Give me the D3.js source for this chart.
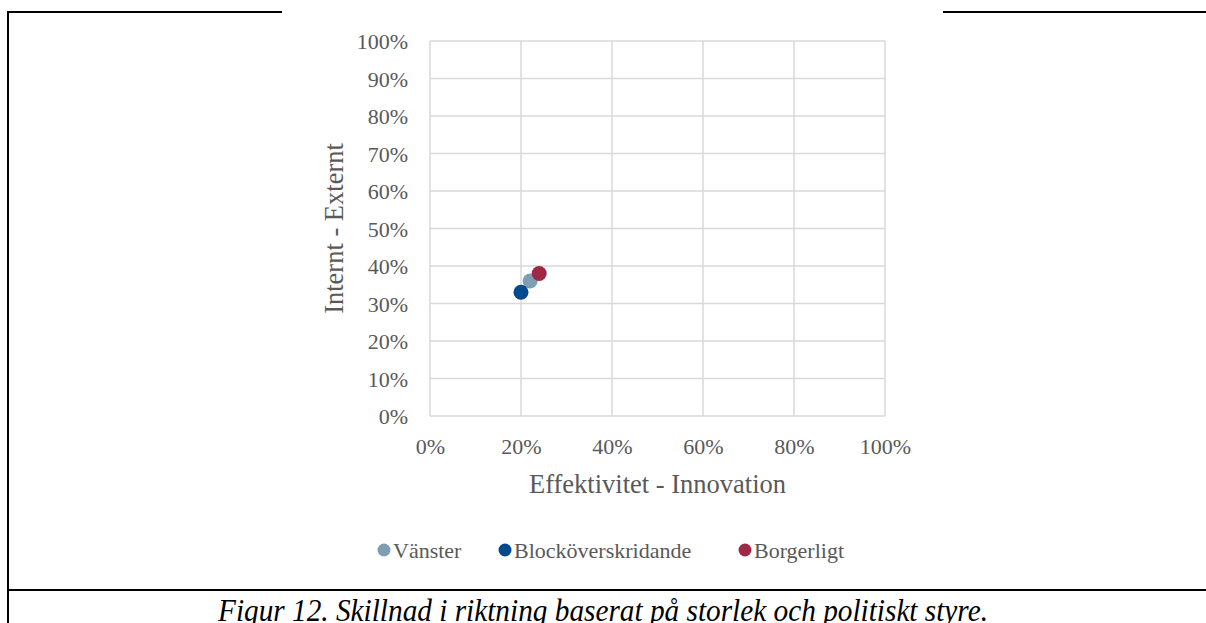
<!DOCTYPE html>
<html>
<head>
<meta charset="utf-8">
<script src="https://cdn.jsdelivr.net/npm/d3@7"></script>
<style>
  html, body { margin: 0; padding: 0; background: #ffffff; }
  svg { display: block; }
</style>
</head>
<body>
<svg id="chart" width="1206" height="623"></svg>
<script>
// Series: share along Effektivitet–Innovation (x) and Internt–Externt (y)
const seriesNames = ["Vänster", "Blocköverskridande", "Borgerligt"];
const seriesColors = ["#7f9db3", "#004b8d", "#9e2946"];
const xValues = [0.22, 0.20, 0.24];
const yValues = [0.36, 0.33, 0.38];
const tickValues = [0, 0.2, 0.4, 0.6, 0.8, 1.0];
const yTickValues = [0, 0.1, 0.2, 0.3, 0.4, 0.5, 0.6, 0.7, 0.8, 0.9, 1.0];
const xTitle = "Effektivitet - Innovation";
const yTitle = "Internt - Externt";
const caption = "Figur 12. Skillnad i riktning baserat på storlek och politiskt styre.";

const svg = d3.select("#chart");
const serif = "'Liberation Serif', 'Times New Roman', serif";
const textGrey = "#595959";

const plot = { left: 430, right: 885, top: 41, bottom: 416 };
const x = d3.scaleLinear().domain([0, 1]).range([plot.left, plot.right]);
const y = d3.scaleLinear().domain([0, 1]).range([plot.bottom, plot.top]);
const pct = d3.format(".0%");

// Frame lines of the figure box
const frame = svg.append("g").attr("stroke", "#000").attr("stroke-width", 2).attr("fill", "none");
frame.append("path").attr("d", "M8,623 V12 H282");
frame.append("path").attr("d", "M943,12 H1206");
frame.append("path").attr("d", "M8,590 H1206");

// Gridlines
const grid = svg.append("g").attr("stroke", "#d9d9d9").attr("stroke-width", 1.5);
grid.selectAll("line.h").data(yTickValues).join("line")
  .attr("x1", plot.left).attr("x2", plot.right)
  .attr("y1", d => y(d)).attr("y2", d => y(d));
grid.selectAll("line.v").data(tickValues).join("line")
  .attr("y1", plot.top).attr("y2", plot.bottom)
  .attr("x1", d => x(d)).attr("x2", d => x(d));

// Axes (labels only, lines come from the grid)
const xAxis = svg.append("g")
  .attr("transform", `translate(0,${plot.bottom})`)
  .call(d3.axisBottom(x).tickValues(tickValues).tickFormat(pct).tickSize(0).tickPadding(22));
const yAxis = svg.append("g")
  .attr("transform", `translate(${plot.left},0)`)
  .call(d3.axisLeft(y).tickValues(yTickValues).tickFormat(pct).tickSize(0).tickPadding(22));
[xAxis, yAxis].forEach(a => {
  a.select(".domain").remove();
  a.selectAll("text")
    .attr("font-family", serif).attr("font-size", 22).attr("fill", textGrey);
});
xAxis.selectAll("text").attr("dy", "0.71em");
yAxis.selectAll("text").attr("dy", "0.35em");

// Axis titles
svg.append("text")
  .attr("x", (plot.left + plot.right) / 2).attr("y", 493)
  .attr("text-anchor", "middle")
  .attr("font-family", serif).attr("font-size", 26.5).attr("fill", textGrey)
  .text(xTitle);
svg.append("text")
  .attr("transform", `translate(343,${(plot.top + plot.bottom) / 2}) rotate(-90)`)
  .attr("text-anchor", "middle")
  .attr("font-family", serif).attr("font-size", 26.5).attr("fill", textGrey)
  .text(yTitle);

// Points
const points = seriesNames.map((name, i) => ({ name, color: seriesColors[i], x: xValues[i], y: yValues[i] }));
svg.append("g").selectAll("circle").data(points).join("circle")
  .attr("cx", d => x(d.x)).attr("cy", d => y(d.y)).attr("r", 7.5)
  .attr("fill", d => d.color);

// Legend
const legendX = [384, 505, 745];
const legend = svg.append("g").selectAll("g").data(points).join("g")
  .attr("transform", (d, i) => `translate(${legendX[i]},550)`);
legend.append("circle").attr("r", 6.5).attr("fill", d => d.color);
legend.append("text")
  .attr("x", 9).attr("dy", "0.35em")
  .attr("font-family", serif).attr("font-size", 22).attr("fill", textGrey)
  .text(d => d.name);

// Caption
svg.append("text")
  .attr("x", 218).attr("y", 621)
  .attr("textLength", 770).attr("lengthAdjust", "spacingAndGlyphs")
  .attr("font-family", serif).attr("font-size", 31).attr("font-style", "italic").attr("fill", "#000")
  .text(caption);
</script>
</body>
</html>
